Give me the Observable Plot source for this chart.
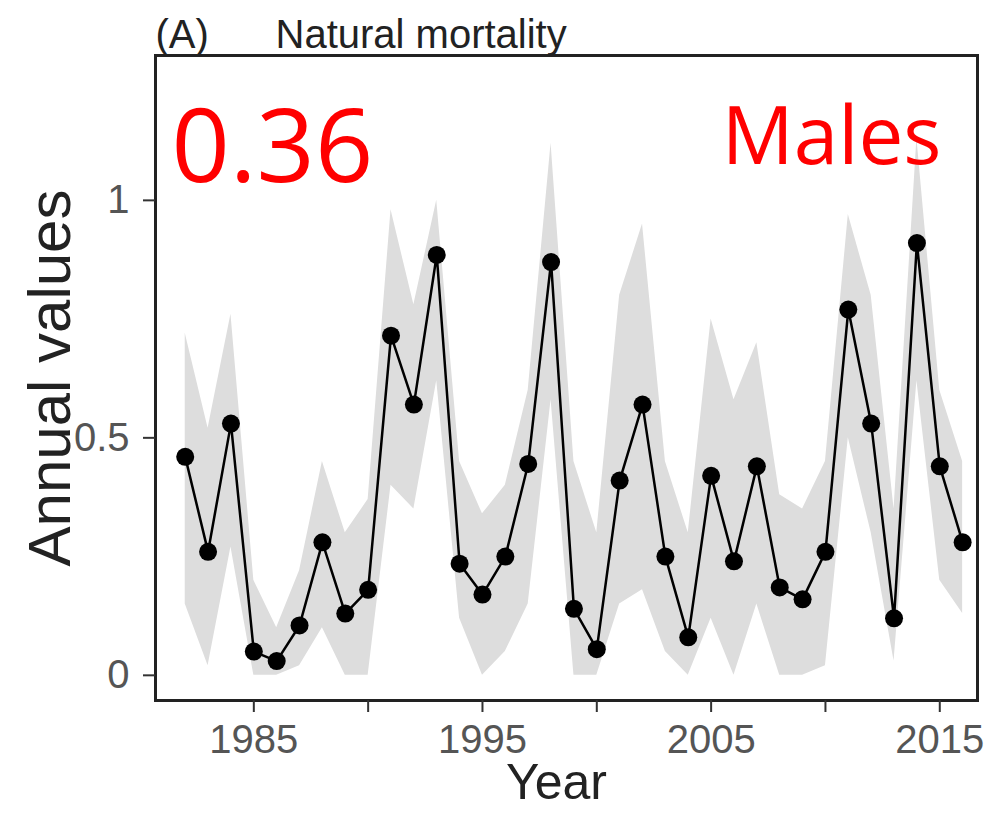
<!DOCTYPE html>
<html>
<head>
<meta charset="utf-8">
<script src="https://cdn.jsdelivr.net/npm/d3@7"></script>
<script src="https://cdn.jsdelivr.net/npm/@observablehq/plot@0.6"></script>
<style>
  body { margin: 0; background: #fff; }
</style>
</head>
<body>
<div id="chart"></div>
<script>
// Natural mortality, males: annual estimates and credible band
let years = d3.range(1982, 2017)
let values = [0.46, 0.26, 0.53, 0.05, 0.03, 0.105, 0.28, 0.13, 0.18, 0.715,
  0.57, 0.885, 0.235, 0.17, 0.25, 0.445, 0.87, 0.14, 0.055, 0.41,
  0.57, 0.25, 0.08, 0.42, 0.24, 0.44, 0.185, 0.16, 0.26, 0.77,
  0.53, 0.12, 0.91, 0.44, 0.28]
let upper = [0.72, 0.52, 0.76, 0.2, 0.1, 0.22, 0.45, 0.3, 0.37, 0.98,
  0.78, 1.0, 0.45, 0.34, 0.4, 0.6, 1.12, 0.45, 0.3, 0.8,
  0.95, 0.45, 0.3, 0.75, 0.58, 0.7, 0.38, 0.35, 0.45, 0.97,
  0.8, 0.35, 1.13, 0.6, 0.45]
let lower = [0.15, 0.02, 0.27, 0, 0, 0.02, 0.1, 0, 0, 0.4,
  0.35, 0.62, 0.12, 0, 0.05, 0.15, 0.58, 0, 0, 0.15,
  0.18, 0.05, 0, 0.12, 0, 0.15, 0, 0, 0.02, 0.5,
  0.3, 0.03, 0.62, 0.2, 0.13]
let yTicks = [0, 0.5, 1]
let xTicks = [1985, 1990, 1995, 2000, 2005, 2010, 2015]
let xLabels = [1985, 1995, 2005, 2015]

let data = years.map((y, i) => ({year: y, value: values[i], lo: lower[i], hi: upper[i]}))

let chart = Plot.plot({
  width: 999,
  height: 813,
  marginLeft: 155,
  marginRight: 22,
  marginTop: 55,
  marginBottom: 113,
  style: {fontFamily: "Liberation Sans, Arial, sans-serif", color: "#222"},
  x: {domain: [1980.7, 2016.65], label: null},
  y: {domain: [-0.053, 1.305], label: null},
  marks: [
    Plot.areaY(data, {x: "year", y1: "lo", y2: "hi", fill: "#dddddd"}),
    Plot.line(data, {x: "year", y: "value", stroke: "#000", strokeWidth: 2.5}),
    Plot.dot(data, {x: "year", y: "value", r: 9, fill: "#000"}),
    Plot.frame({stroke: "#222", strokeWidth: 3}),
    Plot.axisY({ticks: yTicks, tickFormat: d => String(d), tickSize: 12, tickPadding: 14,
      fontSize: 40, stroke: "#333", strokeWidth: 2, fill: "#555", label: null}),
    Plot.axisX({ticks: xTicks, tickFormat: d => xLabels.includes(d) ? String(d) : "",
      tickSize: 12, tickPadding: 12, fontSize: 40, stroke: "#333", strokeWidth: 2, fill: "#555", label: null}),
    Plot.text(["(A)"], {frameAnchor: "top-left", dy: -36, dx: 0, fontSize: 40, fill: "#222"}),
    Plot.text(["Natural mortality"], {frameAnchor: "top-left", dy: -36, dx: 120, fontSize: 40, fill: "#222"}),
    Plot.text(["0.36"], {frameAnchor: "top-left", dx: 16, dy: 54, fontSize: 102,
      fill: "#ff0000", fontFamily: "Open Sans", textAnchor: "start"}),
    Plot.text(["Males"], {frameAnchor: "top-right", dx: -36, dy: 52, fontSize: 80,
      fill: "#ff0000", fontFamily: "Open Sans", textAnchor: "end"}),
    Plot.text(["Annual values"], {frameAnchor: "left", dx: -105, rotate: -90, textAnchor: "middle",
      fontSize: 60, fill: "#222"}),
    Plot.text(["Year"], {frameAnchor: "bottom", dx: -10, dy: 98, fontSize: 50, fill: "#222"})
  ]
})
d3.select('#chart').append(() => chart)
</script>
</body>
</html>
